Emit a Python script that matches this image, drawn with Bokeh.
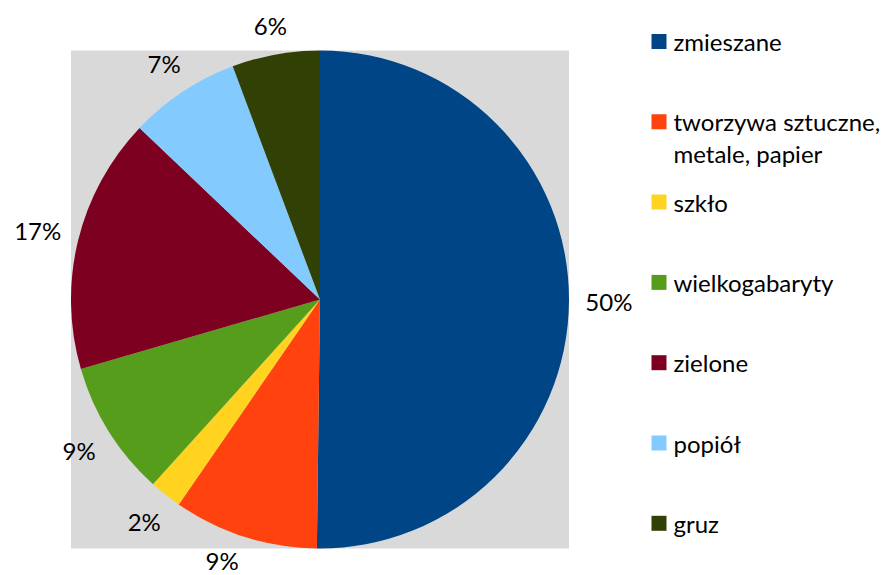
import math
from bokeh.plotting import figure
from bokeh.models import ColumnDataSource, Range1d
from bokeh.core.properties import value
from bokeh.embed import file_html
from bokeh.resources import INLINE

categories = ["zmieszane", "tworzywa sztuczne,\nmetale, papier", "szkło", "wielkogabaryty",
              "zielone", "popiół", "gruz"]
shares = [50.2, 9.4, 2.1, 8.8, 16.6, 7.2, 5.7]
colors = ["#004586", "#ff420e", "#ffd320", "#579d1c", "#7e0021", "#83caff", "#314004"]

FONT = "Lato"
W, H = 885, 575
cx, cy, R = 319.5, 276.0, 249.0
gap = 17.0
char_w = 7.6
half_h = 10.0
edge_pad = 15.5

p = figure(width=W, height=H, x_range=Range1d(0, W), y_range=Range1d(0, H),
           output_backend="svg", toolbar_location=None, min_border=0)
p.axis.visible = False
p.xgrid.visible = False
p.ygrid.visible = False
p.outline_line_color = None
p.background_fill_color = "white"

# gray plot area
p.rect(x=[cx], y=[cy], width=[2 * R], height=[2 * R], fill_color="#d9d9d9", line_color=None)

total = sum(shares)
starts, ends, lx, ly, ltxt = [], [], [], [], []
acc = 0.0
for v in shares:
    a0 = math.pi / 2 - 2 * math.pi * acc / total
    acc += v
    a1 = math.pi / 2 - 2 * math.pi * acc / total
    starts.append(a0)
    ends.append(a1)
    mid = (a0 + a1) / 2
    txt = f"{round(v / total * 100)}%"
    hw = char_w * len(txt)
    ext = abs(math.cos(mid)) * hw + abs(math.sin(mid)) * half_h
    r = R + gap + ext
    x = cx + r * math.cos(mid)
    y = cy + r * math.sin(mid)
    # keep labels inside the canvas (shift sideways along the rim like the original)
    if y < edge_pad:
        x -= (edge_pad - y) * 2.0
        y = edge_pad
    lx.append(x)
    ly.append(min(y, H - edge_pad))
    ltxt.append(txt)

src = ColumnDataSource(dict(start=starts, end=ends, color=colors))
p.wedge(x=cx, y=cy, radius=R, start_angle="start", end_angle="end", direction="clock",
        fill_color="color", line_color=None, source=src)

p.text(x=lx, y=ly, text=ltxt, text_font=value(FONT), text_font_size="24px",
       text_color="#000000", text_align="center", text_baseline="middle")

# legend
leg_x = 658.5
txt_x = 673.0
top_y = 534.0
step = 80.3
line_h = 32.0
sq_y = []
tx, ty, tt = [], [], []
for i, name in enumerate(categories):
    y = top_y - i * step
    sq_y.append(y)
    for j, line in enumerate(name.split("\n")):
        tx.append(txt_x)
        ty.append(y - j * line_h)
        tt.append(line)
p.rect(x=[leg_x] * len(categories), y=sq_y, width=15, height=15, fill_color=colors, line_color=None)
p.text(x=tx, y=ty, text=tt, text_font=value(FONT), text_font_size="24px",
       text_color="#000000", text_align="left", text_baseline="middle")

open("out.html", "w").write(file_html(p, INLINE))
